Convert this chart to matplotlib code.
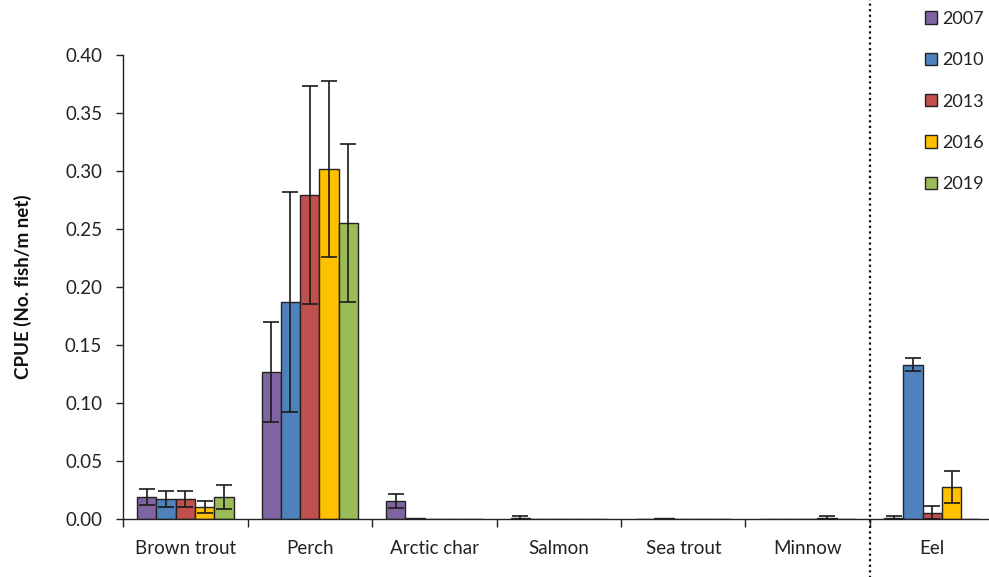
import matplotlib

matplotlib.use("Agg")
import matplotlib.pyplot as plt
import numpy as np
from matplotlib.patches import Patch

plt.rcParams["font.family"] = ["Lato", "DejaVu Sans"]

species = ["Brown trout", "Perch", "Arctic char", "Salmon", "Sea trout", "Minnow", "Eel"]
years = ["2007", "2010", "2013", "2016", "2019"]
colours = ["#8064A2", "#4F81BD", "#C0504D", "#FFC000", "#9BBB59"]

# CPUE per species, one list per survey year
cpue_2007 = [0.019, 0.127, 0.0155, 0.001, 0.0, 0.0, 0.001]
cpue_2010 = [0.017, 0.187, 0.001, 0.0, 0.001, 0.0, 0.133]
cpue_2013 = [0.017, 0.279, 0.0, 0.0, 0.0, 0.0, 0.0055]
cpue_2016 = [0.0105, 0.302, 0.0, 0.0, 0.0, 0.001, 0.0275]
cpue_2019 = [0.019, 0.255, 0.0, 0.0, 0.0, 0.0, 0.0]

# standard errors
se_2007 = [0.007, 0.043, 0.006, 0.002, 0.0, 0.0, 0.002]
se_2010 = [0.007, 0.095, 0.0, 0.0, 0.0, 0.0, 0.0057]
se_2013 = [0.007, 0.094, 0.0, 0.0, 0.0, 0.0, 0.0057]
se_2016 = [0.005, 0.076, 0.0, 0.0, 0.0, 0.002, 0.014]
se_2019 = [0.010, 0.068, 0.0, 0.0, 0.0, 0.0, 0.0]

values = [cpue_2007, cpue_2010, cpue_2013, cpue_2016, cpue_2019]
errors = [se_2007, se_2010, se_2013, se_2016, se_2019]

fig = plt.figure(figsize=(9.89, 5.77), dpi=100)
ax = fig.add_axes([0.1244, 0.1005, 0.8746, 0.8042])

x = np.arange(len(species))
width = 0.155
for i, (vals, errs, col) in enumerate(zip(values, errors, colours)):
    pos = x + (i - 2) * width
    vals = np.array(vals)
    errs = np.array(errs)
    ax.bar(pos, vals, width, color=col, edgecolor="#222222", linewidth=1.0, zorder=2)
    show = errs > 0
    ax.errorbar(pos[show], vals[show], yerr=errs[show], fmt="none",
                ecolor="#1a1a1a", elinewidth=1.2, capsize=6, capthick=1.2, zorder=3)

ax.set_xlim(-0.5, 6.448)
ax.set_ylim(0, 0.40)
ax.set_yticks(np.arange(0, 0.401, 0.05))
ax.set_yticklabels([f"{v:.2f}" for v in np.arange(0, 0.401, 0.05)])
ax.set_xticks(np.arange(-0.5, 6, 1.0))
ax.set_xticklabels([])
ax.set_xticks(x, minor=True)
ax.set_xticklabels(species, minor=True)
ax.tick_params(axis="x", which="major", length=6, width=1, color="#222222")
ax.tick_params(axis="x", which="minor", length=0, pad=15, labelsize=13.5,
               labelcolor="#222222")
ax.tick_params(axis="y", length=5, width=1, color="#222222", labelsize=13.5,
               labelcolor="#222222", pad=10)
for side in ("top", "right"):
    ax.spines[side].set_visible(False)
for side in ("left", "bottom"):
    ax.spines[side].set_color("#222222")
    ax.spines[side].set_linewidth(1.0)

ax.set_ylabel("CPUE (No. fish/m net)", fontsize=13.5, fontweight="bold",
              color="#111111", labelpad=24)

# dotted divider between native species and eel
ax.axvline(5.5, ymin=-0.14, ymax=1.125, clip_on=False, color="#111111",
           linestyle=(0, (1, 1.5)), linewidth=1.6, zorder=4)

handles = [Patch(facecolor=c, edgecolor="#222222", linewidth=1.0) for c in colours]
fig.legend(handles, years, loc="upper left", bbox_to_anchor=(0.935, 0.981),
           frameon=False, fontsize=13, handlelength=0.67, handleheight=0.67,
           handletextpad=0.28, labelspacing=1.4, borderpad=0, borderaxespad=0,
           labelcolor="#222222")

fig.savefig("out.png", dpi=100)
